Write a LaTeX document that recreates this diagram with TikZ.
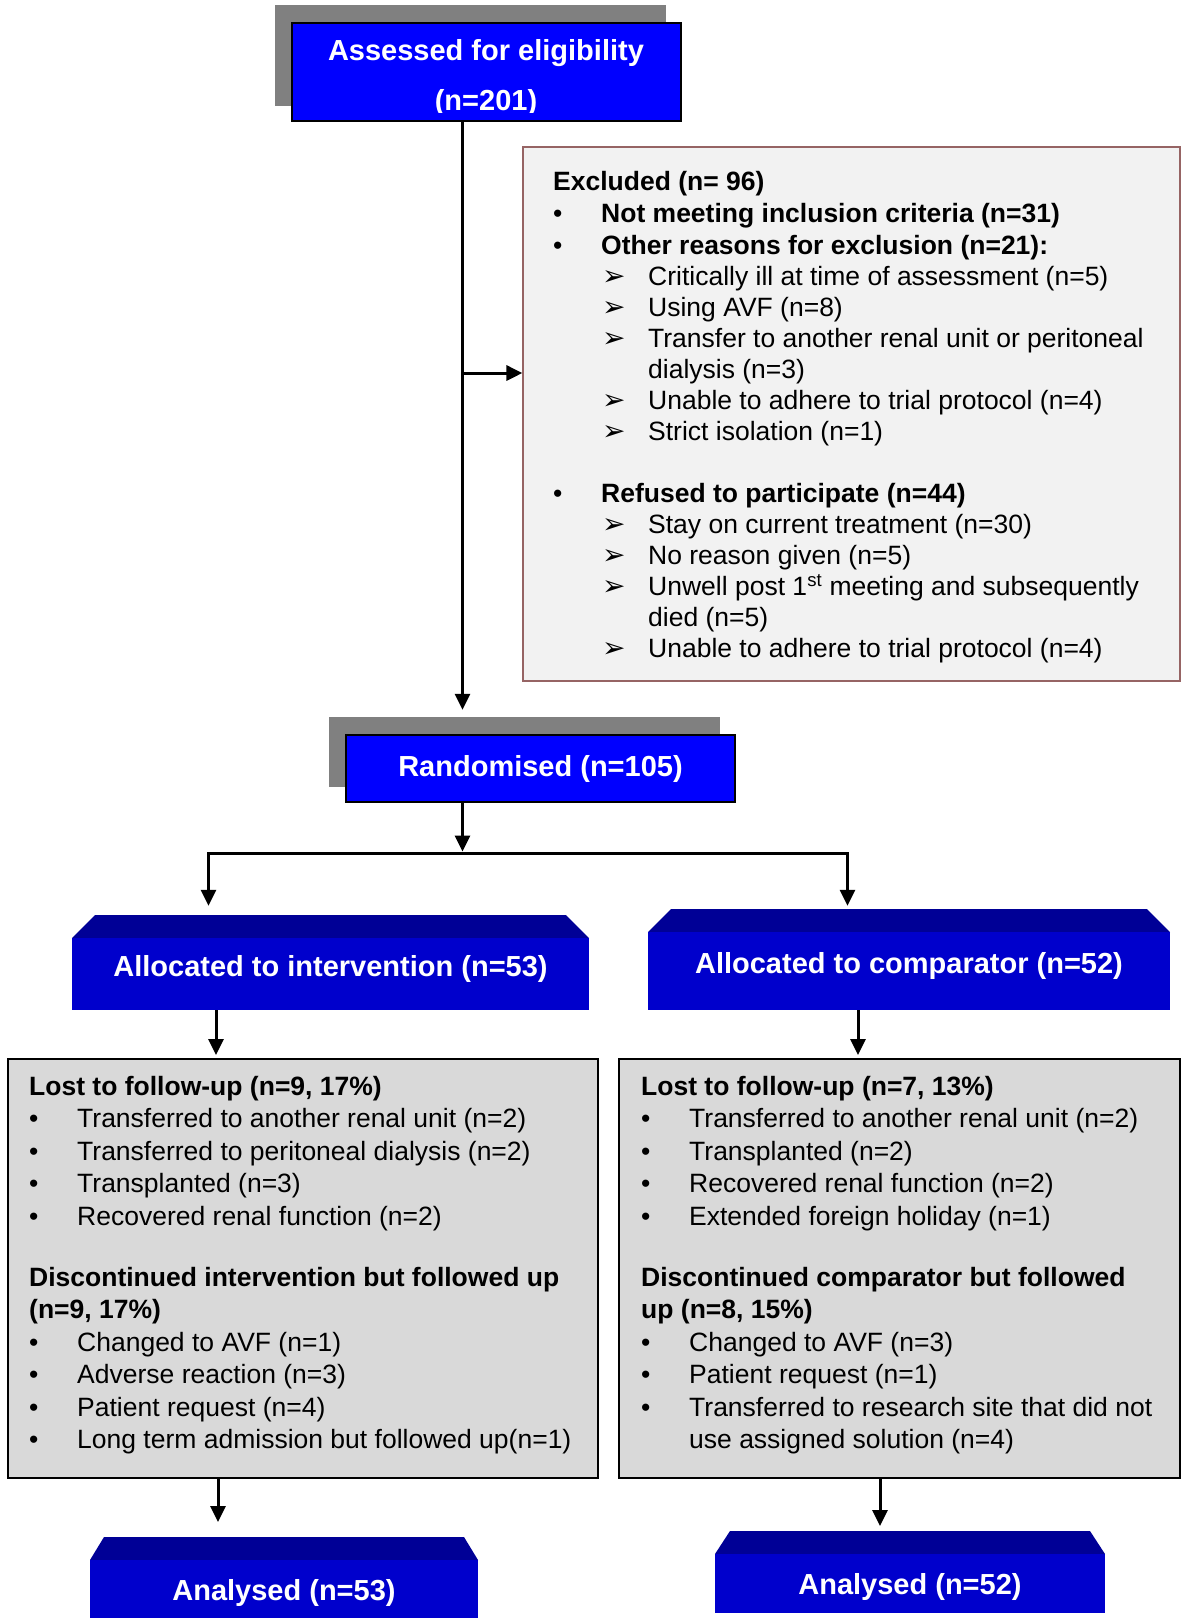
\documentclass[tikz,border=0pt]{standalone}
\usepackage{fontspec}
\setmainfont{Liberation Sans}
\newfontfamily\dejavu{DejaVu Sans}
\usetikzlibrary{arrows.meta}

\definecolor{shadowgray}{RGB}{128,128,128}
\definecolor{boxblue}{RGB}{0,0,255}
\definecolor{bandblue}{RGB}{0,0,150}
\definecolor{bodyblue}{RGB}{0,0,204}
\definecolor{exclfill}{RGB}{242,242,242}
\definecolor{exclline}{RGB}{150,100,100}
\definecolor{lostfill}{RGB}{217,217,217}

\newcommand\bulitem{\makebox[48pt][l]{\textbullet}}
\newcommand\arritem{\makebox[47pt][l]{\hspace{1pt}{\dejavu\fontsize{28}{28}\selectfont ➢}}}

\begin{document}
\begin{tikzpicture}[
        x=1pt, y=-1pt,
        shadow/.style={fill=shadowgray, inner sep=0pt, minimum width=391pt},
        bluebox/.style={draw=black, line width=2.5pt, fill=boxblue, inner sep=0pt,
                minimum width=389pt, text=white, font=\fontsize{29}{35}\selectfont\bfseries},
        bevel/.style={inner sep=0pt, text=white, font=\fontsize{29}{35}\selectfont\bfseries,
                path picture={
                        \fill[bandblue] ([xshift=#1]path picture bounding box.north west)
                        -- ([xshift=-#1]path picture bounding box.north east)
                        -- ([yshift=-23pt]path picture bounding box.north east)
                        -- ([yshift=-23pt]path picture bounding box.north west) -- cycle;
                        \fill[bodyblue] ([yshift=-23pt]path picture bounding box.north west)
                        rectangle (path picture bounding box.south east);
                    }},
        listtext/.style={anchor=north west, inner sep=0pt, align=left},
        arrowline/.style={line width=3pt, -{Triangle[length=16pt,width=15pt]}}
    ]
    \useasboundingbox (0,0) rectangle (1182,1618);

    % assessed
    \node[shadow, minimum height=101pt] (assessShadow) at (470.5,55.5) {};
    \node[bluebox, minimum height=98pt] (assess) at (486.5,72) {};
    \begin{scope}
        \clip (assess.north west) rectangle ([yshift=10pt]assess.south east);
        \node[align=center, text=white, font=\fontsize{29}{50}\selectfont\bfseries]
            (assessText) at (486,78) {Assessed for eligibility\\(n=201)};
    \end{scope}

    % excluded
    \node[draw=exclline, line width=1.2pt, fill=exclfill, inner sep=0pt,
        minimum width=657pt, minimum height=534pt] (excl) at (851.5,414) {};
    \node[listtext, font=\fontsize{26.5}{31}\selectfont] (exclText) at (553,171) {%
        \textbf{Excluded (n= 96)}\\[1pt]
        \bulitem\textbf{Not meeting inclusion criteria (n=31)}\\[1pt]
        \bulitem\textbf{Other reasons for exclusion (n=21):}\\
        \hspace*{48pt}\arritem Critically ill at time of assessment (n=5)\\
        \hspace*{48pt}\arritem Using AVF (n=8)\\
        \hspace*{48pt}\arritem Transfer to another renal unit or peritoneal\\
        \hspace*{95pt}dialysis (n=3)\\
        \hspace*{48pt}\arritem Unable to adhere to trial protocol (n=4)\\
        \hspace*{48pt}\arritem Strict isolation (n=1)\\[31pt]
        \bulitem\textbf{Refused to participate (n=44)}\\
        \hspace*{48pt}\arritem Stay on current treatment (n=30)\\
        \hspace*{48pt}\arritem No reason given (n=5)\\
        \hspace*{48pt}\arritem Unwell post 1\textsuperscript{st} meeting and subsequently\\
        \hspace*{95pt}died (n=5)\\
        \hspace*{48pt}\arritem Unable to adhere to trial protocol (n=4)};

    % randomised
    \node[shadow, minimum height=70pt] (randShadow) at (524.5,752) {};
    \node[bluebox, minimum height=67pt] (rand) at (540.5,768.5) {Randomised (n=105)};

    % allocation
    \node[bevel=23pt, minimum width=517pt, minimum height=95pt] (allocI) at (330.5,962.5)
        {\raisebox{-6pt}[\height][\depth]{Allocated to intervention (n=53)}};
    \node[bevel=23pt, minimum width=522pt, minimum height=101pt] (allocC) at (909,959.5)
        {\raisebox{-6pt}[\height][\depth]{Allocated to comparator (n=52)}};

    % follow-up
    \node[draw, line width=2pt, fill=lostfill, inner sep=0pt,
        minimum width=590pt, minimum height=419pt] (lostI) at (303,1268.5) {};
    \node[draw, line width=2pt, fill=lostfill, inner sep=0pt,
        minimum width=561pt, minimum height=419pt] (lostC) at (899.5,1268.5) {};
    \node[listtext, font=\fontsize{26.5}{32.4}\selectfont] (lostIText) at (29,1076) {%
        \textbf{Lost to follow-up (n=9, 17\%)}\\
        \bulitem Transferred to another renal unit (n=2)\\
        \bulitem Transferred to peritoneal dialysis (n=2)\\
        \bulitem Transplanted (n=3)\\
        \bulitem Recovered renal function (n=2)\\[29pt]
        \textbf{Discontinued intervention but followed up}\\
        \textbf{(n=9, 17\%)}\\
        \bulitem Changed to AVF (n=1)\\
        \bulitem Adverse reaction (n=3)\\
        \bulitem Patient request (n=4)\\
        \bulitem Long term admission but followed up(n=1)};
    \node[listtext, font=\fontsize{26.5}{32.4}\selectfont] (lostCText) at (641,1076) {%
        \textbf{Lost to follow-up (n=7, 13\%)}\\
        \bulitem Transferred to another renal unit (n=2)\\
        \bulitem Transplanted (n=2)\\
        \bulitem Recovered renal function (n=2)\\
        \bulitem Extended foreign holiday (n=1)\\[29pt]
        \textbf{Discontinued comparator but followed}\\
        \textbf{up (n=8, 15\%)}\\
        \bulitem Changed to AVF (n=3)\\
        \bulitem Patient request (n=1)\\
        \bulitem Transferred to research site that did not\\
        \hspace*{48pt}use assigned solution (n=4)};

    % analysed
    \node[bevel=14pt, minimum width=388pt, minimum height=112pt] (analysedI) at (284,1593) {Analysed (n=53)};
    \node[bevel=15pt, minimum width=390pt, minimum height=82pt] (analysedC) at (910,1572)
        {\raisebox{-15pt}[\height][\depth]{Analysed (n=52)}};

    % connectors
    \coordinate (splitE) at (462.5,373);
    \coordinate (splitR) at (462.5,853);
    \coordinate (splitL) at (208.5,853);
    \coordinate (splitC) at (847.5,853);
    \coordinate (colI) at (216,1055);
    \coordinate (colC) at (858,1055);
    \coordinate (endI) at (218,1522);
    \coordinate (endC) at (880,1526);

    \draw[arrowline, shorten >=7pt] (assess.south -| splitE) -- (randShadow.north -| splitE);
    \draw[arrowline] (splitE) -- (splitE -| excl.west);
    \draw[arrowline, shorten >=1.5pt] (rand.south -| splitR) -- (splitR);
    \draw[arrowline, shorten >=9pt] (splitR) -| (allocI.north -| splitL);
    \draw[arrowline, shorten >=3pt] (splitR) -| (allocC.north -| splitC);
    \draw[arrowline] (allocI.south -| colI) -- (colI);
    \draw[arrowline] (allocC.south -| colC) -- (colC);
    \draw[arrowline] (lostI.south -| endI) -- (endI);
    \draw[arrowline] (lostC.south -| endC) -- (endC);
\end{tikzpicture}
\end{document}
